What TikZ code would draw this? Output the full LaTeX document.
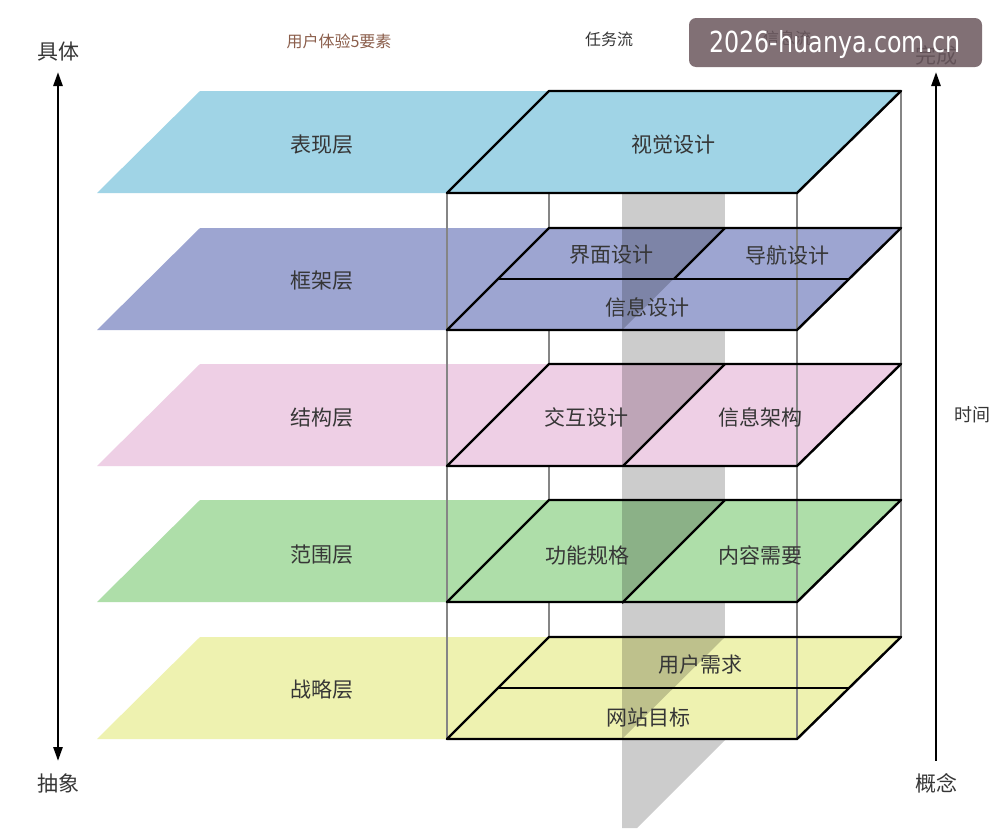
\documentclass[tikz,border=0pt]{standalone}
\usepackage{fontspec}
\setmainfont{Noto Sans CJK SC}
\newfontfamily\wmfont[FakeStretch=0.82]{DejaVu Sans}
\usetikzlibrary{arrows.meta}
\definecolor{cBlue}{HTML}{A0D4E6}
\definecolor{cPeri}{HTML}{9DA5D1}
\definecolor{cPink}{HTML}{EECFE5}
\definecolor{cGreen}{HTML}{AEDEA9}
\definecolor{cYellow}{HTML}{EEF2B0}
\definecolor{txt}{HTML}{363636}
\definecolor{brownish}{HTML}{8B5E4B}
\definecolor{wmcol}{HTML}{6B585E}
\definecolor{frame}{HTML}{858585}
\tikzset{
  lbl/.style={text=txt, font=\fontsize{21}{24}\selectfont, inner sep=0pt},
  toplbl/.style={text=txt, font=\fontsize{16}{19}\selectfont, inner sep=0pt},
  backline/.style={draw=frame, line width=2.2pt},
  frontline/.style={draw=frame, line width=2.2pt},
  border/.style={draw=black, line width=2.4pt, line join=round},
  beam/.style={fill=black, fill opacity=0.2},
  axis/.style={draw=black, line width=2.6pt},
}
\begin{document}
\begin{tikzpicture}[x=1pt,y=-1pt]
\useasboundingbox (0,0) rectangle (998,828);
\fill[white] (0,0) rectangle (998,828);
% back vertical lines
\draw[backline] (549,193) -- (549,637);
\draw[backline] (901,91) -- (901,637);
% layer fills
\foreach \t/\c in {91/cBlue,228/cPeri,364/cPink,500/cGreen,637/cYellow}{
  \pgfmathsetmacro\b{\t+102}
  \fill[\c] (97,\b) -- (797,\b) -- (901,\t) -- (200,\t) -- cycle;
}
% beam
\foreach \t in {228,364,500,637}{
  \pgfmathsetmacro\b{\t+102}
  \fill[beam] (622,\t) -- (725,\t) -- (622,\b) -- cycle;
}
\foreach \a/\z in {193/228,330/364,466/500,603/637}{
  \fill[beam] (622,\a) rectangle (725,\z);
}
\fill[beam] (622,740) -- (725,740) -- (637,828) -- (622,828) -- cycle;
% front vertical lines
\draw[frontline] (447,193) -- (447,740);
\draw[frontline] (797,193) -- (797,740);
% borders
\foreach \t in {91,228,364,500,637}{
  \pgfmathsetmacro\b{\t+102}
  \draw[border] (447,\b) -- (797,\b) -- (901,\t) -- (549,\t) -- cycle;
}
% partitions
\draw[border] (498,279) -- (848,279);
\draw[border] (725,228) -- (674,279);
\draw[border] (725,364) -- (623,466);
\draw[border] (725,500) -- (622,603);
\draw[border] (498,688) -- (849,688);
% left labels
\node[lbl] (l1) at (322,145) {表现层};
\node[lbl] (l2) at (322,281) {框架层};
\node[lbl] (l3) at (322,418) {结构层};
\node[lbl] (l4) at (322,555) {范围层};
\node[lbl] (l5) at (322,690) {战略层};
% box labels
\node[lbl] (v1) at (673,145) {视觉设计};
\node[lbl] (f1) at (611,255) {界面设计};
\node[lbl] (f2) at (787,255) {导航设计};
\node[lbl] (f3) at (647,307) {信息设计};
\node[lbl] (s1) at (586,417) {交互设计};
\node[lbl] (s2) at (760,417) {信息架构};
\node[lbl] (r1) at (587,555) {功能规格};
\node[lbl] (r2) at (760,555) {内容需要};
\node[lbl] (z1) at (700,665) {用户需求};
\node[lbl] (z2) at (648,717) {网站目标};
% top labels
\node[toplbl, text=brownish] (t1) at (339,41) {用户体验5要素};
\node[toplbl] (t2) at (609,39) {任务流};
\node[toplbl] (t3) at (787,38) {信息流};
% axes
\node[lbl] (a1) at (58,52) {具体};
\node[lbl] (a2) at (58,783) {抽象};
\node[lbl] (b1) at (936,55) {完成};
\node[lbl] (b2) at (936,783) {概念};
\node[text=txt, font=\fontsize{18}{20}\selectfont, inner sep=0pt] (tm) at (972,415) {时间};
\coordinate (ltop) at (58,72);
\coordinate (lbot) at (58,761);
\coordinate (rtop) at (936,72);
\coordinate (rbot) at (936,761);
\draw[axis, {Triangle[width=9pt,length=14pt]}-{Triangle[width=9pt,length=14pt]}] (ltop) -- (lbot);
\draw[axis, {Triangle[width=9pt,length=14pt]}-] (rtop) -- (rbot);
% watermark
\fill[wmcol, fill opacity=0.85, rounded corners=7pt] (689,18) rectangle (982,67);
\node[text=white, font=\wmfont\fontsize{29}{32}\selectfont, inner sep=0pt] (wm) at (835,44) {2026-huanya.com.cn};
\end{tikzpicture}
\end{document}
